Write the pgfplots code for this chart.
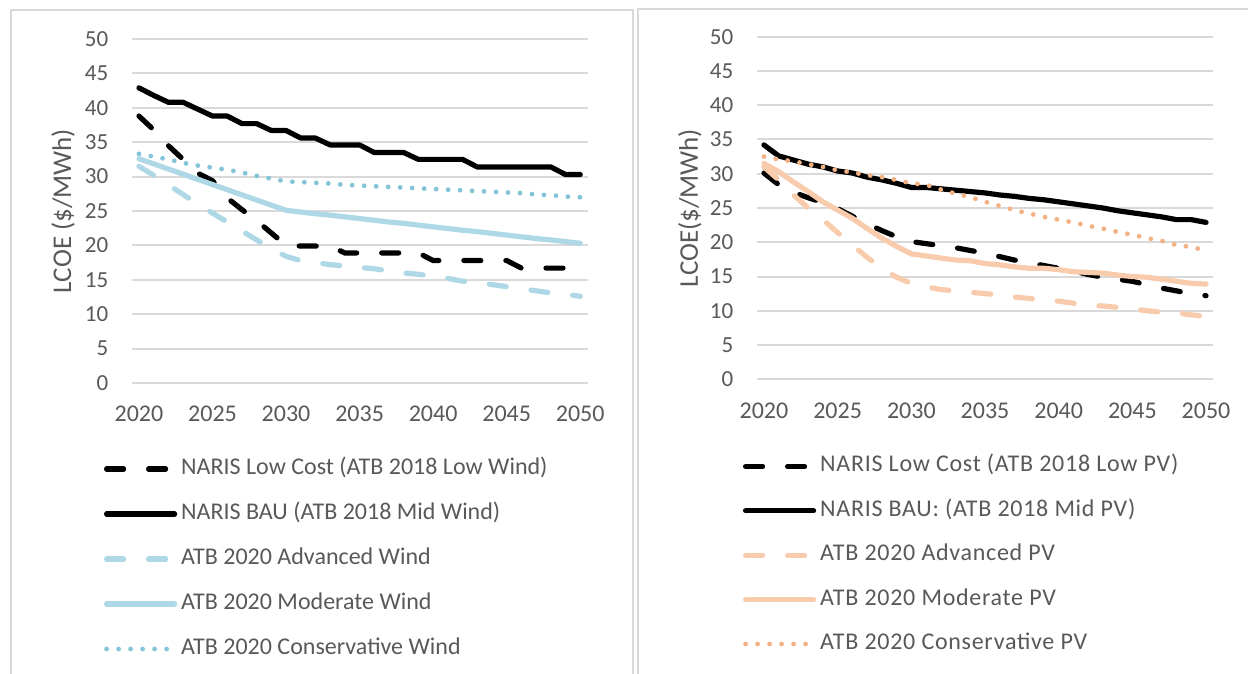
\documentclass[border=0pt]{standalone}
\usepackage{pgfplots}
\usepackage{pgfplotstable}
\pgfplotsset{compat=1.18}
\usepackage{fontspec}
\setmainfont{Carlito}

\definecolor{txt}{RGB}{89,89,89}
\definecolor{gridc}{RGB}{217,217,217}
\definecolor{wind}{RGB}{174,216,230}
\definecolor{windcons}{RGB}{132,196,216}
\definecolor{pv}{RGB}{248,203,173}
\definecolor{pvcons}{RGB}{244,177,131}

% left panel: wind
\pgfplotstableread{
year low  bau  adv  mod   cons
2020 38.8 42.9 31.5 32.6  33.3
2021 36.8 41.8 30.2 31.85 32.9
2022 34.5 40.8 28.8 31.1  32.5
2023 32.5 40.8 27.4 30.35 32.0
2024 30.5 39.8 26.0 29.6  31.6
2025 29.4 38.8 24.7 28.85 31.3
2026 26.9 38.8 23.4 28.1  31.0
2027 25.2 37.7 22.1 27.35 30.6
2028 23.6 37.7 20.8 26.6  30.1
2029 21.8 36.7 19.6 25.85 29.7
2030 20.0 36.7 18.4 25.1  29.3
2031 19.9 35.6 17.8 24.85 29.2
2032 19.9 35.6 17.5 24.6  29.1
2033 19.9 34.6 17.2 24.4  29.0
2034 18.9 34.6 17.0 24.15 28.8
2035 18.9 34.6 16.8 23.9  28.7
2036 18.9 33.5 16.6 23.65 28.6
2037 18.9 33.5 16.3 23.4  28.5
2038 18.9 33.5 16.0 23.2  28.4
2039 18.9 32.5 15.8 22.95 28.3
2040 17.8 32.5 15.5 22.7  28.2
2041 17.8 32.5 15.2 22.45 28.1
2042 17.8 32.5 14.8 22.2  28.0
2043 17.8 31.4 14.6 22.0  27.9
2044 17.8 31.4 14.3 21.75 27.8
2045 17.8 31.4 14.0 21.5  27.7
2046 16.7 31.4 13.7 21.25 27.6
2047 16.7 31.4 13.4 21.0  27.4
2048 16.7 31.4 13.1 20.8  27.3
2049 16.7 30.3 12.9 20.55 27.1
2050 16.7 30.3 12.6 20.3  27.0
}\winddata

% right panel: PV
\pgfplotstableread{
year low  bau  adv  mod  cons
2020 30.1 34.2 31.0 31.5 32.5
2021 28.4 32.6 29.1 30.3 32.1
2022 27.3 32.0 26.9 28.8 31.8
2023 26.5 31.4 25.0 27.4 31.4
2024 25.8 31.0 23.3 25.9 31.0
2025 24.9 30.4 21.4 24.7 30.5
2026 23.8 30.1 19.6 23.5 30.2
2027 22.7 29.5 17.8 22.0 29.8
2028 21.7 29.1 16.2 20.6 29.5
2029 20.8 28.6 14.9 19.4 29.1
2030 20.1 28.0 14.0 18.3 28.6
2031 19.8 28.0 13.5 18.0 28.4
2032 19.5 27.8 13.1 17.7 27.7
2033 19.2 27.6 12.9 17.4 27.1
2034 18.8 27.4 12.7 17.3 26.6
2035 18.4 27.2 12.5 16.9 25.9
2036 17.9 26.9 12.3 16.7 25.3
2037 17.4 26.7 12.0 16.4 24.7
2038 17.0 26.4 11.8 16.2 24.2
2039 16.6 26.2 11.6 16.2 23.7
2040 16.2 25.9 11.4 16.0 23.3
2041 15.8 25.6 11.1 15.7 22.9
2042 15.3 25.3 10.8 15.6 22.4
2043 14.9 25.0 10.7 15.5 22.0
2044 14.6 24.6 10.5 15.2 21.5
2045 14.3 24.3 10.3 15.0 21.1
2046 13.8 24.0 10.0 14.9 20.6
2047 13.3 23.7 9.8  14.6 20.2
2048 12.9 23.3 9.7  14.3 19.6
2049 12.5 23.3 9.4  14.0 19.3
2050 12.2 22.9 9.2  13.9 18.8
}\pvdata

\pgfplotsset{
  lcoe/.style={
    scale only axis,
    xmin=2019.5, xmax=2050.5,
    ymin=0, ymax=50,
    xtick={2020,2025,...,2050},
    ytick={0,5,...,50},
    axis line style={draw=none},
    tick style={draw=none},
    major tick length=0pt,
    ymajorgrids,
    grid style={gridc, line width=1pt},
    clip=false,
    tick label style={text=txt, /pgf/number format/assume math mode=true},
    x tick label style={font=\fontsize{12}{14}\selectfont, /pgf/number format/1000 sep={}, inner sep=0pt, anchor=north, yshift=-11.5pt},
    y tick label style={font=\fontsize{11.5}{14}\selectfont, inner sep=0pt, anchor=east, xshift=-11.5pt},
    ylabel style={font=\fontsize{13.5}{16}\selectfont, text=txt, anchor=center},
    legend cell align=left,
    legend style={draw=none, fill=none, anchor=north west, text=txt,
      inner sep=0pt, outer sep=0pt, column sep=2pt,
      nodes={inner sep=0pt, outer sep=0pt, text height=8pt, text depth=2.5pt}},
    legend image code/.code={\draw[##1] (0pt,0pt) -- (34pt,0pt);},
  },
  lowc/.style={line width=2.6pt, line cap=round, dash pattern=on 8.5pt off 12.5pt},
  solidl/.style={line width=2.6pt, line cap=round, line join=round},
  dotl/.style={line width=2.4pt, line cap=round, dash pattern=on 0pt off 6pt},
}

\begin{document}
\begin{tikzpicture}
\useasboundingbox (0,0) rectangle (624pt,337pt);
\clip (0,0) rectangle (624pt,337pt);
\fill[white] (0,0) rectangle (624pt,337pt);
\draw[gridc, line width=1pt] (5.5pt,-10pt) rectangle (316.5pt,332pt);
\draw[gridc, line width=1pt] (319pt,-10pt) rectangle (640pt,332.5pt);

\begin{axis}[lcoe,
  at={(65.8pt,145.5pt)}, anchor=south west,
  width=228pt, height=172pt,
  ylabel={LCOE (\$/MWh)},
  ylabel style={at={(axis description cs:-0.150,0.5)}},
  legend style={at={(axis description cs:-0.0605,-0.2195)}, row sep=12pt,
    font=\fontsize{12}{14}\selectfont},
]
\addplot[black, lowc] table[x=year, y=low] {\winddata};
\addlegendentry{NARIS Low Cost (ATB 2018 Low Wind)}
\addplot[black, solidl] table[x=year, y=bau] {\winddata};
\addlegendentry{NARIS BAU (ATB 2018 Mid Wind)}
\addplot[wind, lowc] table[x=year, y=adv] {\winddata};
\addlegendentry{ATB 2020 Advanced Wind}
\addplot[wind, solidl] table[x=year, y=mod] {\winddata};
\addlegendentry{ATB 2020 Moderate Wind}
\addplot[windcons, dotl] table[x=year, y=cons] {\winddata};
\addlegendentry{ATB 2020 Conservative Wind}
\end{axis}

\begin{axis}[lcoe,
  at={(378.3pt,147.35pt)}, anchor=south west,
  width=228.4pt, height=171.3pt,
  ylabel={LCOE(\$/MWh)},
  ylabel style={at={(axis description cs:-0.146,0.5)}},
  legend style={at={(axis description cs:-0.0298,-0.2238)}, row sep=11.7pt,
    font=\fontsize{12}{14}\selectfont\addfontfeature{LetterSpace=3}},
]
\addplot[black, lowc] table[x=year, y=low] {\pvdata};
\addlegendentry{NARIS Low Cost (ATB 2018 Low PV)}
\addplot[black, solidl] table[x=year, y=bau] {\pvdata};
\addlegendentry{NARIS BAU: (ATB 2018 Mid PV)}
\addplot[pv, lowc] table[x=year, y=adv] {\pvdata};
\addlegendentry{ATB 2020 Advanced PV}
\addplot[pv, solidl] table[x=year, y=mod] {\pvdata};
\addlegendentry{ATB 2020 Moderate PV}
\addplot[pvcons, dotl] table[x=year, y=cons] {\pvdata};
\addlegendentry{ATB 2020 Conservative PV}
\end{axis}
\end{tikzpicture}
\end{document}
